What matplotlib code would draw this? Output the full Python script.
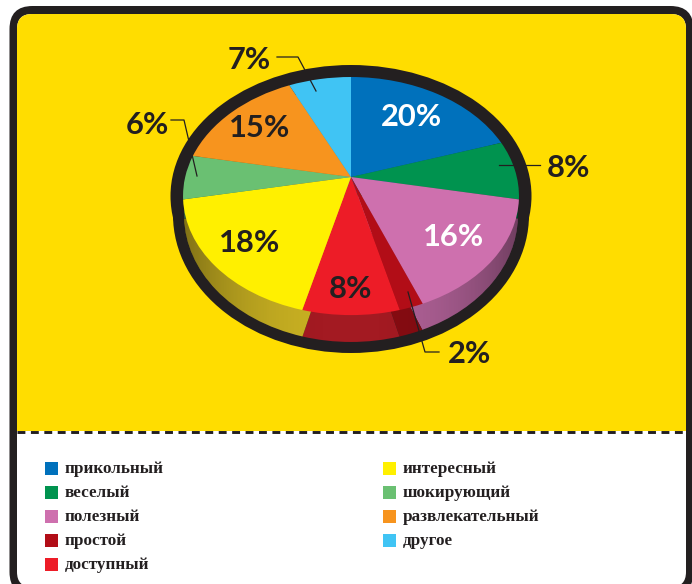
import numpy as np
import matplotlib
matplotlib.use('Agg')
import matplotlib.pyplot as plt
from matplotlib.patches import Ellipse, FancyBboxPatch, Rectangle
from matplotlib.transforms import Transform

W, H = 692, 584

shares = [20, 8, 16, 2, 8, 18, 6, 15, 7]
names = ['прикольный', 'веселый', 'полезный', 'простой', 'доступный',
         'интересный', 'шокирующий', 'развлекательный', 'другое']
top_colors = ['#0071BC', '#00934F', '#CE70AE', '#B20D17', '#ED1C27',
              '#FFF000', '#6AC072', '#F7941E', '#40C4F4']
wall_colors = ['#00558D', '#006E3B', '#AE6095', '#860C12', '#A31A22',
               '#C8B022', '#50905A', '#B96F16', '#3093B7']
label_text = ['20%', '8%', '16%', '2%', '8%', '18%', '6%', '15%', '7%']
label_x = [412, 569, 454, 470, 350, 250, 147, 260, 249]
label_y = [117, 168, 237, 354, 289, 243, 125, 128, 60]
label_col = ['white', '#231F20', 'white', '#231F20', '#231F20',
             '#231F20', '#231F20', '#231F20', '#231F20']
leaders = [[(277, 57), (298, 57), (316, 91)],
           [(171, 120), (184, 120), (197, 176)],
           [(499, 165), (540, 165)],
           [(408, 292), (425, 352), (439, 352)]]

INK = '#231F20'
YELLOW = '#FFDD00'


class Tilt(Transform):
    # perspective view of the unit circle, centre lands on (cx, cy) in pixels
    input_dims = 2
    output_dims = 2

    def __init__(self, cx, cy, a=165.8, b=116.0, k=0.16):
        super().__init__()
        self.cx, self.cy, self.a, self.b, self.k = cx, cy, a, b, k

    def transform_non_affine(self, xy):
        xy = np.asarray(xy)
        d = 1 + self.k * xy[:, 1]
        return np.column_stack([self.cx + self.a * xy[:, 0] / d,
                                self.cy - self.b * xy[:, 1] / d])


fig = plt.figure(figsize=(W / 100, H / 100), dpi=100)
ax = fig.add_axes([0, 0, 1, 1])

wall, _ = ax.pie(shares, colors=wall_colors, startangle=90, counterclock=False)
top, _ = ax.pie(shares, colors=top_colors, startangle=90, counterclock=False)

# frame, runs off the right and bottom of the page
ax.add_patch(FancyBboxPatch((9.5, 6), 684, 589, boxstyle='round,pad=0,rounding_size=23',
                            fc=INK, ec='none', zorder=1))
inner = FancyBboxPatch((17, 14), 669, 573, boxstyle='round,pad=0,rounding_size=15',
                       fc='white', ec='none', zorder=1.05)
ax.add_patch(inner)
yel = Rectangle((0, 0), W, 431, fc=YELLOW, ec='none', zorder=1.1)
ax.add_patch(yel)
yel.set_clip_path(inner)
ax.plot([17, 686], [432, 432], color=INK, lw=2.1, dashes=(2.7, 1.9), zorder=1.3)

# black rim behind the disc
ax.add_patch(Ellipse((351, 196), 361, 262, fc=INK, ec='none', zorder=2))
ax.add_patch(Ellipse((351, 215), 356, 276, fc=INK, ec='none', zorder=2))

# side wall then top face
for w in wall:
    w.set_transform(Tilt(351, 194.7, a=164.8, b=123.7) + ax.transData)
    w.set_edgecolor('none')
    w.set_zorder(3)
for w in top:
    w.set_transform(Tilt(351, 177) + ax.transData)
    w.set_edgecolor('none')
    w.set_zorder(4)

# wall gets darker towards both ends
shade = np.zeros((1, 200, 4))
shade[0, :, 3] = 0.35 * np.abs(np.linspace(-1, 1, 200)) ** 2.5
wall_edge = Ellipse((351, 215), 334, 254, fc='none', ec='none')
ax.add_patch(wall_edge)
im = ax.imshow(shade, extent=(184, 518, 342, 88), aspect='auto', zorder=3.5)
im.set_clip_path(wall_edge)

ax.set_aspect('auto')
ax.set_xlim(0, W)
ax.set_ylim(H, 0)
ax.axis('off')

for pts in leaders:
    xs = [p[0] for p in pts]
    ys = [p[1] for p in pts]
    ax.plot(xs, ys, color=INK, lw=0.9, zorder=5)

for s, x, y, c in zip(label_text, label_x, label_y, label_col):
    ax.text(x, y, s, color=c, fontsize=22.2, fontweight='bold', family='Lato',
            ha='center', va='center', zorder=6)

# legend, two columns
rows = [468, 492, 516, 540, 564]
for i, name in enumerate(names):
    x0 = 45 if i < 5 else 383
    y0 = rows[i] if i < 5 else rows[i - 5]
    ax.add_patch(Rectangle((x0, y0 - 6.5), 13, 13, fc=top_colors[i], ec='none', zorder=5))
    ax.text(x0 + 20, y0 + 1, name, color=INK, fontsize=12.3, fontweight='bold',
            family='Liberation Serif', ha='left', va='center', zorder=6)

fig.savefig('out.png', dpi=100)
